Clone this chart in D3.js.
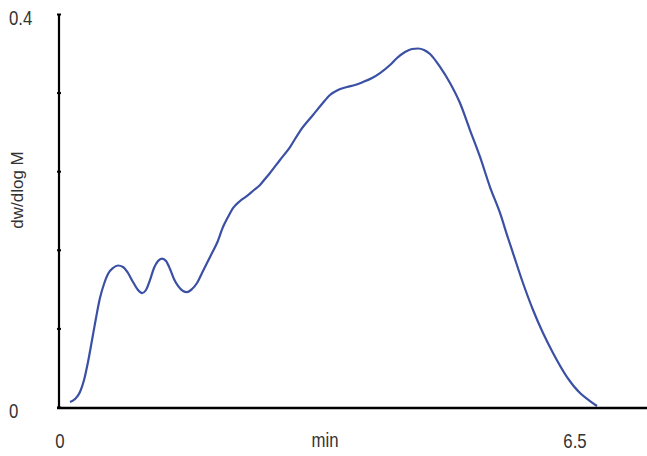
<!DOCTYPE html>
<html>
<head>
<meta charset="utf-8">
<script src="https://cdn.jsdelivr.net/npm/d3@7"></script>
<style>
  body { margin: 0; background: #fff; }
  .lbl { font-family: "Liberation Sans", Arial, sans-serif; font-size: 20px; fill: #333; }
  .ytitle { font-family: "Liberation Sans", Arial, sans-serif; font-size: 17px; fill: #333; }
</style>
</head>
<body>
<div id="chart"></div>
<script>
// retention time (min) and dw/dlog M
var times = [0.139, 0.202, 0.265, 0.316, 0.366, 0.417, 0.467, 0.517, 0.568, 0.618,
  0.682, 0.745, 0.808, 0.871, 0.934, 0.997, 1.048, 1.098, 1.149, 1.199,
  1.250, 1.300, 1.351, 1.401, 1.451, 1.502, 1.565, 1.616, 1.679, 1.742,
  1.805, 1.868, 1.931, 1.994, 2.070, 2.133, 2.196, 2.285, 2.373, 2.461,
  2.537, 2.600, 2.663, 2.789, 2.916, 3.042, 3.206, 3.319, 3.420, 3.521,
  3.635, 3.736, 3.837, 3.951, 4.052, 4.178, 4.266, 4.367, 4.455, 4.531,
  4.607, 4.683, 4.809, 4.935, 5.061, 5.187, 5.314, 5.440, 5.566, 5.667,
  5.730, 5.856, 5.983, 6.109, 6.235, 6.412, 6.576, 6.702, 6.790];
var values = [0.0051, 0.0081, 0.0153, 0.0275, 0.0458, 0.0682, 0.0906, 0.1109, 0.1252, 0.1354,
  0.1415, 0.1440, 0.1425, 0.1364, 0.1272, 0.1191, 0.1160, 0.1191, 0.1293, 0.1415,
  0.1486, 0.1511, 0.1486, 0.1405, 0.1303, 0.1232, 0.1181, 0.1170, 0.1201, 0.1262,
  0.1364, 0.1466, 0.1567, 0.1669, 0.1832, 0.1934, 0.2025, 0.2097, 0.2148, 0.2209,
  0.2260, 0.2321, 0.2382, 0.2514, 0.2646, 0.2809, 0.2972, 0.3084, 0.3176, 0.3227,
  0.3257, 0.3277, 0.3308, 0.3349, 0.3399, 0.3481, 0.3552, 0.3613, 0.3644, 0.3649,
  0.3634, 0.3593, 0.3461, 0.3298, 0.3094, 0.2819, 0.2545, 0.2239, 0.1975, 0.1720,
  0.1567, 0.1262, 0.0987, 0.0753, 0.0550, 0.0305, 0.0142, 0.0061, 0.0010];

var yTicks = [0, 0.08, 0.16, 0.24, 0.32, 0.4];
var yTickLabels = [{v: 0, t: "0"}, {v: 0.4, t: "0.4"}];
var xTickLabels = [{v: 0, t: "0"}, {v: 6.5, t: "6.5"}];
var xTitle = "min";
var yTitle = "dw/dlog M";

var svgWidth = 647;
var svgHeight = 456;

var svg = d3.select("#chart")
  .append("svg")
  .attr("width", svgWidth)
  .attr("height", svgHeight);

var x = d3.scaleLinear().domain([0, 6.5]).range([59, 574]);
var y = d3.scaleLinear().domain([0, 0.4]).range([407, 14]);

var data = times.map((t, i) => ({t: t, v: values[i]}));

// curve
svg.append("path")
  .datum(data)
  .attr("fill", "none")
  .attr("stroke", "#3a50a4")
  .attr("stroke-width", 2.2)
  .attr("d", d3.line()
    .x(d => x(d.t))
    .y(d => y(d.v))
    .curve(d3.curveMonotoneX));

// y axis with small ticks, labels drawn separately
var yAxis = svg.append("g")
  .attr("transform", "translate(59,0)")
  .call(d3.axisLeft(y).tickValues(yTicks).tickSize(2).tickSizeOuter(0).tickFormat(""));
yAxis.select(".domain").attr("stroke", "#000").attr("stroke-width", 2.2)
  .attr("d", "M0," + (y(0.4)) + "V" + (y(0) + 1));
yAxis.selectAll(".tick line").attr("stroke", "#000").attr("stroke-width", 2).attr("x2", -2).attr("x1", 2);

// x axis line
svg.append("line")
  .attr("x1", 57).attr("x2", svgWidth)
  .attr("y1", 408).attr("y2", 408)
  .attr("stroke", "#000").attr("stroke-width", 2.4);

// condensed look: squeeze the labels horizontally
function squeeze(sel, ax, ay) {
  sel.attr("transform", `translate(${ax},${ay}) scale(0.84,1)`);
}

svg.selectAll(".ylab")
  .data(yTickLabels)
  .enter()
  .append("text")
  .attr("class", "lbl")
  .each(function(d) { squeeze(d3.select(this), 9, y(d.v) + 11); })
  .text(d => d.t);

svg.selectAll(".xlab")
  .data(xTickLabels)
  .enter()
  .append("text")
  .attr("class", "lbl")
  .attr("text-anchor", "middle")
  .each(function(d) { squeeze(d3.select(this), x(d.v) + 1, 448); })
  .text(d => d.t);

svg.append("text")
  .attr("class", "lbl")
  .attr("text-anchor", "middle")
  .call(squeeze, 325, 447)
  .text(xTitle);

svg.append("text")
  .attr("class", "ytitle")
  .attr("text-anchor", "middle")
  .attr("transform", "translate(23,190) rotate(-90)")
  .text(yTitle);
</script>
</body>
</html>
